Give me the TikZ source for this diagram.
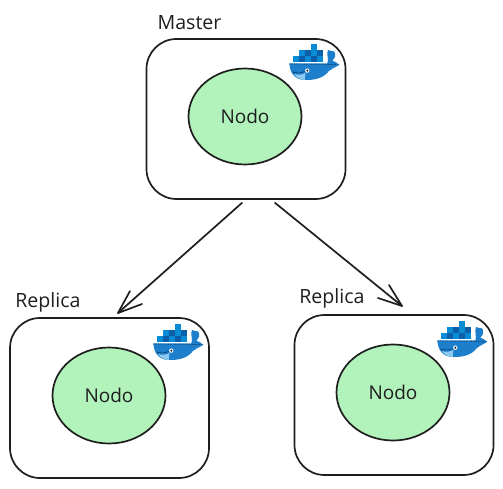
\documentclass[tikz,border=0pt]{standalone}
\usepackage{fontspec}
\setmainfont{Open Sans}
\usetikzlibrary{shapes.geometric}
\definecolor{ink}{HTML}{1E1E1E}
\definecolor{nodegreen}{HTML}{B2F2BB}
\definecolor{dkA}{HTML}{0B5FA8}
\definecolor{dkB}{HTML}{0A8BD6}
\definecolor{dkC}{HTML}{1D7FCB}
\definecolor{dkL}{HTML}{8CCBEF}
\tikzset{
  box/.style={draw=ink,line width=1.7pt,rounded corners=30pt,minimum width=199pt,minimum height=160pt,inner sep=0pt},
  nodo/.style={draw=ink,line width=1.7pt,fill=nodegreen,ellipse,minimum width=113pt,minimum height=96pt,inner sep=0pt,text=ink,font=\fontsize{19}{20}\selectfont},
  lab/.style={text=ink,inner sep=0pt,font=\fontsize{19.6}{20}\selectfont},
  link/.style={draw=ink,line width=1.7pt,line cap=round,line join=round},
  whale/.pic={
    \begin{scope}[x=0.333pt,y=-0.333pt]
      \fill[dkB] (123,43) rectangle (141,61);
      \foreach \xx/\cc in {88/dkB,106/dkA,123/dkB,141/dkA}{\fill[\cc] (\xx,61) rectangle ++(17.5,17.5);}
      \foreach \xx/\cc in {70/dkB,88/dkA,106/dkB,123/dkA,141/dkB}{\fill[\cc] (\xx,78.5) rectangle ++(17.5,17.5);}
      \fill[dkC] (58,100) -- (172,100) .. controls (178,92) and (168,72) .. (174,60)
        .. controls (180,66) and (186,60) .. (192,64) .. controls (200,72) and (196,84) .. (187,92)
        .. controls (195,96) and (204,98) .. (208,105)
        .. controls (190,115) and (182,118) .. (176,124)
        .. controls (160,146) and (130,151) .. (105,150)
        .. controls (75,150) and (60,130) .. (58,100) -- cycle;
      \fill[dkL] (72,133) .. controls (85,135) and (100,135) .. (107,128)
        .. controls (105,140) and (103,146) .. (105,150) .. controls (90,150) and (80,143) .. (72,133) -- cycle;
      \draw[dkA!70!black,line width=0.6pt] (66,126) .. controls (80,130) and (95,130) .. (104,124);
      \draw[dkA!70!black,line width=0.7pt,dash pattern=on 1.2pt off 1.2pt] (58,102) -- (208,104);
      \fill[white] (112,122) circle (6.5);
      \fill[ink] (112,122) circle (3.5);
    \end{scope}
  }
}
\begin{document}
\begin{tikzpicture}[x=1pt,y=-1pt]
  \useasboundingbox (0,0) rectangle (503,489);
  \node[box] (master) at (246,119) {};
  \node[box] (repl) at (109.5,398) {};
  \node[box] (repr) at (394,395) {};
  \node[nodo] (nm) at (245,116.5) {Nodo};
  \node[nodo] (nl) at (109,395.5) {Nodo};
  \node[nodo] (nr) at (393,392.5) {Nodo};
  \node[lab] (tm) at (189.5,22.5) {Master};
  \node[lab] (tl) at (48,302.5) {Replica};
  \node[lab] (tr) at (332,298.5) {Replica};
  \pic at (270,30) {whale};
  \pic at (134,310) {whale};
  \pic at (418,307) {whale};
  \coordinate (al) at (118,313);
  \coordinate (bl1) at (130,291);
  \coordinate (bl2) at (142,304);
  \coordinate (ar) at (402,306);
  \coordinate (br1) at (389,285);
  \coordinate (br2) at (378,298);
  \draw[link] ([xshift=-4pt,yshift=-3pt]master.south) -- (al);
  \draw[link] (bl1) -- (al) -- (bl2);
  \draw[link] ([xshift=29pt,yshift=-3pt]master.south) -- (ar);
  \draw[link] (br1) -- (ar) -- (br2);
\end{tikzpicture}
\end{document}
